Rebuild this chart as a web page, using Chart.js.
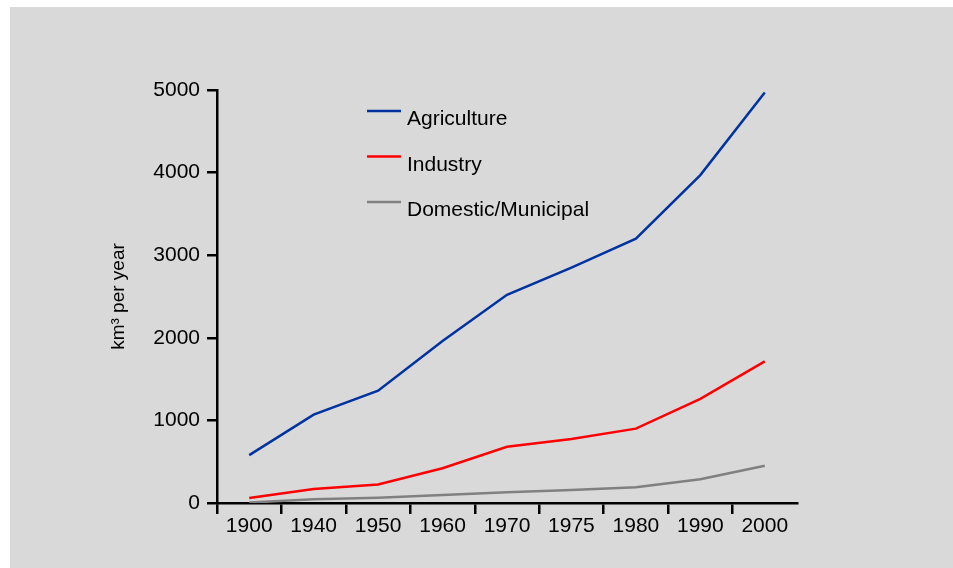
<!DOCTYPE html>
<html>
<head>
<meta charset="utf-8">
<script src="https://cdn.jsdelivr.net/npm/chart.js@4/dist/chart.umd.min.js"></script>
<style>
    html, body { margin: 0; padding: 0; background: #ffffff; }
    #wrap {
        position: absolute;
        left: 10px;
        top: 7px;
        width: 943px;
        height: 561px;
        background: #d9d9d9;
    }
</style>
</head>
<body>
<div id="wrap"><canvas id="waterChart" width="943" height="561"></canvas></div>
<script>

    const years = ["1900", "1940", "1950", "1960", "1970", "1975", "1980", "1990", "2000"];

    const agriculture = [580, 1070, 1360, 1960, 2520, 2850, 3200, 3970, 4970];

    const industry = [60, 170, 225, 420, 680, 775, 900, 1260, 1715];

    const domestic = [5, 45, 65, 97, 130, 157, 190, 287, 450];

    const yTicks = [0, 1000, 2000, 3000, 4000, 5000];

    const COLORS = {

        agriculture: "#0033a0",

        industry: "#ff0000",

        domestic: "#808080"

    };

    const FONT = "'Liberation Sans', Arial, sans-serif";

    // legend drawn inside the plot, one row per series
    const insideLegend = {

        id: "insideLegend",

        afterDraw(chart) {

            const ctx = chart.ctx;

            ctx.save();

            ctx.font = "21px " + FONT;

            ctx.fillStyle = "#000000";

            ctx.textBaseline = "alphabetic";

            chart.data.datasets.forEach((ds, i) => {

                const y = 104 + i * 45.5;

                ctx.strokeStyle = ds.borderColor;

                ctx.lineWidth = 2.5;

                ctx.beginPath();

                ctx.moveTo(357, y);

                ctx.lineTo(391, y);

                ctx.stroke();

                ctx.fillText(ds.label, 397, y + 14);

            });

            ctx.restore();

        }

    };

    function line(label, data, color) {

        return {

            label: label,

            data: data,

            borderColor: color,

            backgroundColor: color,

            borderWidth: 2.5,

            pointRadius: 0,

            tension: 0

        };

    }

    new Chart(document.getElementById("waterChart"), {

        type: "line",

        data: {

            labels: years,

            datasets: [

                line("Agriculture", agriculture, COLORS.agriculture),

                line("Industry", industry, COLORS.industry),

                line("Domestic/Municipal", domestic, COLORS.domestic)

            ]

        },

        options: {

            responsive: false,

            animation: false,

            layout: {

                padding: { left: 0, top: 83, right: 156, bottom: 0 }

            },

            plugins: {

                legend: { display: false },

                tooltip: { enabled: false }

            },

            scales: {

                x: {

                    type: "category",

                    offset: true,

                    afterFit(scale) { scale.height = 65; },

                    border: { color: "#000000", width: 2.5 },

                    grid: {

                        offset: true,

                        drawOnChartArea: false,

                        drawTicks: true,

                        tickLength: 11,

                        lineWidth: 2.5,

                        // no tick mark at the right end of the axis
                        tickColor: ctx => ctx.tick ? "#000000" : "rgba(0,0,0,0)"

                    },

                    ticks: {

                        color: "#000000",

                        padding: 0,

                        maxRotation: 0,

                        font: { family: FONT, size: 21 }

                    }

                },

                y: {

                    min: 0,

                    max: 5000,

                    afterFit(scale) { scale.width = 207; },

                    afterBuildTicks(scale) {

                        scale.ticks = yTicks.map(v => ({ value: v }));

                    },

                    border: { color: "#000000", width: 2.5 },

                    grid: {

                        drawOnChartArea: false,

                        drawTicks: true,

                        tickLength: 10,

                        lineWidth: 2.5,

                        tickColor: "#000000"

                    },

                    ticks: {

                        color: "#000000",

                        padding: 7,

                        callback: v => String(v),

                        font: { family: FONT, size: 21 }

                    },

                    title: {

                        display: true,

                        text: "km³ per year",

                        color: "#000000",

                        padding: { top: 97, bottom: 0 },

                        font: { family: FONT, size: 19 }

                    }

                }

            }

        },

        plugins: [insideLegend]

    });

</script>
</body>
</html>
